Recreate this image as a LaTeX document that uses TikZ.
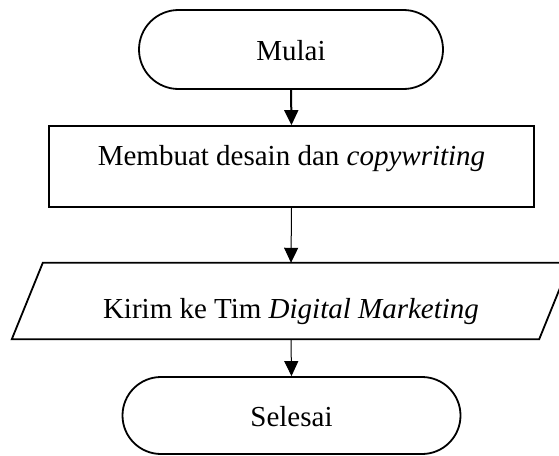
\documentclass[tikz,border=0pt]{standalone}
\usepackage{fontspec}
\setmainfont{Liberation Serif}
\usetikzlibrary{arrows.meta,calc}
\begin{document}
\begin{tikzpicture}[x=1pt,y=-1pt,
  every node/.style={font=\fontsize{29}{34}\selectfont, inner sep=0pt},
  shapeline/.style={draw=black, line width=1.8pt},
  terminal/.style={shapeline, rectangle, text height=22pt, text depth=0pt},
  process/.style={shapeline, rectangle},
  flowthick/.style={draw=black, line width=2pt, -{Triangle[width=14pt,length=15pt]}},
  flowthin/.style={draw=black, line width=1pt, -{Triangle[width=14pt,length=15pt]}}]
  \useasboundingbox (0,0) rectangle (559,455);
  \clip (0,0) rectangle (559,455);
  \node[terminal, minimum width=304pt, minimum height=79pt, rounded corners=39.5pt] (mulai) at (291,49.5) {Mulai};
  \node[process, minimum width=485pt, minimum height=81pt, text height=10pt, text depth=12pt] (desain) at (291.5,166.5) {Membuat desain dan \textit{copywriting}};
  \node[rectangle, minimum width=527pt, minimum height=76pt, text height=34pt, text depth=0pt] (kirim) at (291,301) {Kirim ke Tim \textit{Digital Marketing}};
  \draw[shapeline] ($(kirim.south west)+(-15.5,0)$) -- ($(kirim.south east)+(-15.5,0)$) -- ($(kirim.north east)+(15.5,0)$) -- ($(kirim.north west)+(15.5,0)$) -- cycle;
  \node[terminal, minimum width=338pt, minimum height=77pt, rounded corners=38.5pt] (selesai) at (291.5,415.5) {Selesai};
  \draw[flowthick] (mulai.south) -- (desain.north);
  \draw[flowthin] (desain.south) -- (kirim.north);
  \draw[flowthin] (kirim.south) -- (selesai.north);
\end{tikzpicture}
\end{document}
